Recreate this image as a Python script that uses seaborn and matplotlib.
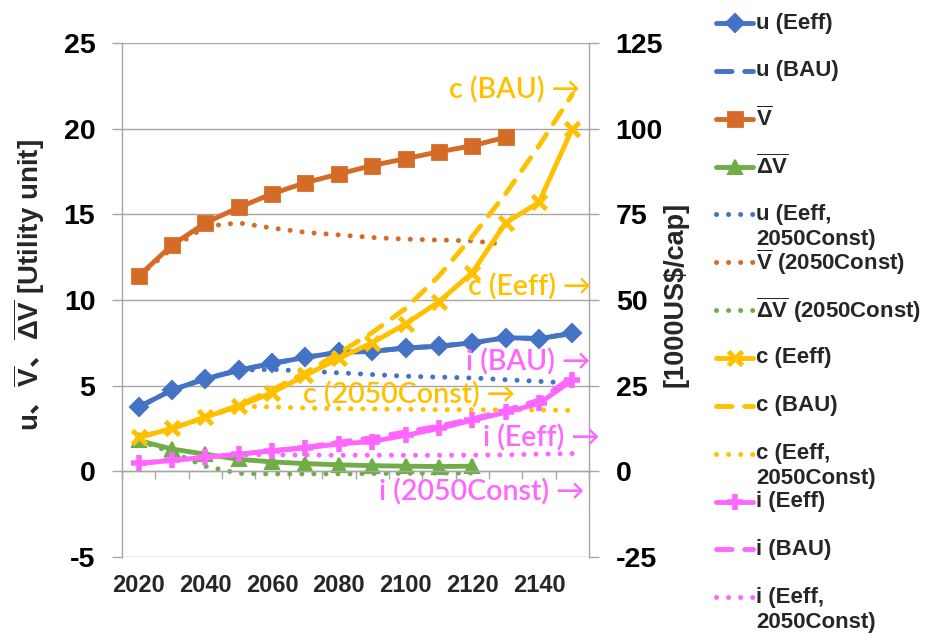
import numpy as np
import pandas as pd
import matplotlib
matplotlib.use("Agg")
import matplotlib.pyplot as plt
from matplotlib.lines import Line2D
import seaborn as sns

nan = np.nan

# ---------------- data ----------------
years = [2020, 2030, 2040, 2050, 2060, 2070, 2080, 2090, 2100, 2110, 2120, 2130, 2140, 2150]
xtick_years = [2020, 2040, 2060, 2080, 2100, 2120, 2140]
left_ticks = [-5, 0, 5, 10, 15, 20, 25]
right_ticks = [-25, 0, 25, 50, 75, 100, 125]

# utility-side series (left axis)
u_eeff = [3.75, 4.75, 5.4, 5.9, 6.3, 6.65, 6.95, 7.0, 7.2, 7.3, 7.5, 7.8, 7.75, 8.05]
u_bau = [3.75, 4.75, 5.4, 5.9, 6.3, 6.65, 6.95, 7.0, 7.2, 7.3, 7.5, 7.8, 7.75, 8.05]
v_bar = [11.4, 13.2, 14.5, 15.4, 16.2, 16.85, 17.35, 17.85, 18.25, 18.65, 19.0, 19.5, nan, nan]
dv_bar = [1.8, 1.3, 1.0, 0.7, 0.55, 0.45, 0.38, 0.33, 0.3, 0.28, 0.3, nan, nan, nan]
u_const = [3.75, 4.75, 5.4, 5.9, 5.95, 5.85, 5.75, 5.65, 5.55, 5.5, 5.45, 5.35, 5.25, 5.15]
v_const = [11.4, 13.0, 14.3, 14.5, 14.2, 13.95, 13.8, 13.65, 13.55, 13.5, 13.45, 13.25, nan, nan]
dv_const = [1.8, 1.1, 0.3, -0.12, -0.15, -0.15, -0.15, -0.13, -0.12, -0.1, -0.1, nan, nan, nan]

# economic series (right axis, 1000 US$/cap)
c_eeff = [9.9, 12.5, 15.8, 19.0, 23.0, 28.0, 33.0, 37.5, 43.0, 49.5, 58.0, 72.5, 78.5, 100.0]
c_bau = [9.9, 12.5, 15.8, 19.3, 23.8, 28.8, 34.5, 40.5, 47.5, 57.0, 68.5, 81.0, 95.0, 110.0]
c_const = [9.9, 12.5, 15.8, 19.0, 18.8, 18.5, 18.3, 18.2, 18.1, 18.0, 18.0, 17.9, 17.9, 17.8]
i_eeff = [2.3, 3.2, 4.1, 5.0, 6.0, 6.8, 8.0, 8.7, 10.5, 12.5, 14.9, 17.2, 19.8, 26.6]
i_bau = [2.3, 3.2, 4.1, 5.0, 6.0, 7.0, 8.5, 9.8, 11.5, 13.2, 15.3, 17.8, 20.8, 27.5]
i_const = [2.3, 3.2, 4.1, 4.9, 4.8, 4.75, 4.7, 4.7, 4.7, 4.7, 4.75, 4.8, 5.0, 5.2]

# ---------------- style ----------------
sns.set_theme(style="white")
plt.rcParams["font.family"] = ["Liberation Sans", "Noto Sans CJK JP", "DejaVu Sans"]
plt.rcParams["axes.unicode_minus"] = False
plt.rcParams["mathtext.fontset"] = "custom"
plt.rcParams["mathtext.bf"] = "Liberation Sans:bold"
plt.rcParams["mathtext.rm"] = "Liberation Sans:bold"
plt.rcParams["mathtext.sf"] = "Noto Sans CJK JP:bold"

BLUE = "#4472C4"
ORANGE = "#D46B26"
GREEN = "#70AD47"
GOLD = "#FFC000"
PINK = "#FF66FF"
GRAY = "#A6A6A6"

LW = 3.5
LW_DOT = 3.6
SOLID = "-"
DASHED = (0, (3.2, 2.6))
DOTTED = (0, (0.01, 2.4))

MARKERS = {
    "D": dict(ms=9, mew=1.5),
    "s": dict(ms=10.5, mew=2),
    "^": dict(ms=10.5, mew=1.5),
    "x": dict(ms=9.5, mew=3.5),
    "+": dict(ms=11, mew=4),
}

W, H = 933, 637
fig = plt.figure(figsize=(W / 100, H / 100), dpi=100)
ax = fig.add_axes([122 / W, 1 - 557 / H, 467 / W, 514 / H])
ax2 = ax.twinx()


def style_line(line, color, style, marker):
    line.set_color(color)
    line.set_linestyle(style)
    line.set_linewidth(LW_DOT if style is DOTTED else LW)
    line.set_dash_capstyle("round")
    line.set_solid_capstyle("round")
    line.set_solid_joinstyle("round")
    if marker:
        line.set_marker(marker)
        line.set_markersize(MARKERS[marker]["ms"])
        line.set_markeredgewidth(MARKERS[marker]["mew"])
        line.set_markeredgecolor(color)
        line.set_markerfacecolor(color)
    else:
        line.set_marker("None")


def draw(axis, values, color, style, marker=None):
    df = pd.DataFrame({"year": years, "value": values}).dropna()
    sns.lineplot(data=df, x="year", y="value", ax=axis, estimator=None,
                 sort=False, errorbar=None, legend=False)
    style_line(axis.lines[-1], color, style, marker)


series = [
    # label, axis, values, color, style, marker
    ("u (Eeff)", ax, u_eeff, BLUE, SOLID, "D"),
    ("u (BAU)", ax, u_bau, BLUE, DASHED, None),
    (r"$\overline{\mathbf{V}}$", ax, v_bar, ORANGE, SOLID, "s"),
    (r"$\overline{\mathbf{\Delta V}}$", ax, dv_bar, GREEN, SOLID, "^"),
    ("u (Eeff,\n2050Const)", ax, u_const, BLUE, DOTTED, None),
    (r"$\overline{\mathbf{V}}$ (2050Const)", ax, v_const, ORANGE, DOTTED, None),
    (r"$\overline{\mathbf{\Delta V}}$ (2050Const)", ax, dv_const, GREEN, DOTTED, None),
    ("c (Eeff)", ax2, c_eeff, GOLD, SOLID, "x"),
    ("c (BAU)", ax2, c_bau, GOLD, DASHED, None),
    ("c (Eeff,\n2050Const)", ax2, c_const, GOLD, DOTTED, None),
    ("i (Eeff)", ax2, i_eeff, PINK, SOLID, "+"),
    ("i (BAU)", ax2, i_bau, PINK, DASHED, None),
    ("i (Eeff,\n2050Const)", ax2, i_const, PINK, DOTTED, None),
]

for label, axis, values, color, style, marker in series:
    draw(axis, values, color, style, marker)

# ---------------- axes ----------------
ax.set_xlim(2015, 2155)
ax.set_ylim(-5, 25)
ax2.set_ylim(-25, 125)
ax.set_xlabel("")
ax.set_ylabel("")
ax2.set_ylabel("")

ax.set_axisbelow(True)
ax.grid(axis="y", color=GRAY, lw=1)
ax.grid(axis="x", visible=False)
ax2.grid(False)

ax.set_yticks(left_ticks, labels=[str(t) for t in left_ticks], fontweight="bold")
ax.tick_params(axis="y", left=True, direction="out", length=7.2, width=1,
               color=GRAY, labelsize=20.5, pad=12, labelcolor="black")
ax2.set_yticks(right_ticks, labels=[str(t) for t in right_ticks], fontweight="bold")
ax2.tick_params(axis="y", right=True, direction="out", length=7.2, width=1,
                color=GRAY, labelsize=20.5, pad=12, labelcolor="black")

# category boundary marks sit on the zero line
ax.spines["bottom"].set_position(("data", 0))
ax.set_xticks(np.arange(2015, 2156, 10))
ax.tick_params(axis="x", bottom=True, direction="out", length=6, width=1,
               color=GRAY, labelbottom=False)
for name in ("left", "bottom"):
    ax.spines[name].set_color(GRAY)
    ax.spines[name].set_linewidth(1)
for name in ("top", "right"):
    ax.spines[name].set_visible(False)
for name in ("top", "bottom", "left"):
    ax2.spines[name].set_visible(False)
ax2.spines["right"].set_color(GRAY)
ax2.spines["right"].set_linewidth(1)

# year labels along the bottom edge
sec = ax.secondary_xaxis("bottom")
sec.set_xticks(xtick_years, labels=[str(y) for y in xtick_years], fontweight="bold")
sec.tick_params(axis="x", length=0, labelsize=17, pad=12)
sec.spines["bottom"].set_visible(False)

# axis titles
fig.text(29 / W, 1 - 285 / H,
         r"u$\mathsf{、}\overline{\mathbf{V}}\mathsf{、}\overline{\mathbf{\Delta V}}$ [Utility unit]",
         rotation=90, ha="center", va="center", fontsize=20, fontweight="bold")
fig.text(676 / W, 1 - 294 / H, "[1000US$/cap]", rotation=90, ha="center",
         va="center", fontsize=19.5, fontweight="bold")

# ---------------- series call-outs ----------------
callouts = [
    ("c (BAU) →", GOLD, 580, 90),
    ("c (Eeff) →", GOLD, 592, 287),
    ("c (2050Const) →", GOLD, 515, 395),
    ("i (BAU) →", PINK, 590, 362),
    ("i (Eeff) →", PINK, 600, 438),
    ("i (2050Const) →", PINK, 585, 492),
]
for text, color, px, py in callouts:
    ax2.text((px - 122) / 467, (557 - py) / 514, text, transform=ax2.transAxes,
             ha="right", va="center", color=color, fontsize=20.5, fontweight=600,
             family=["Lato", "DejaVu Sans"], clip_on=False, zorder=10)

# ---------------- legend ----------------
x0, x1 = 716 / W, 753 / W
for k, (label, axis, values, color, style, marker) in enumerate(series):
    py = 23 + k * 47.85
    yf = 1 - py / H
    handle = Line2D([x0, (x0 + x1) / 2, x1], [yf, yf, yf], transform=fig.transFigure,
                    markevery=[1])
    style_line(handle, color, style, marker)
    fig.add_artist(handle)
    for j, part in enumerate(label.split("\n")):
        fig.text(756 / W, 1 - (py + j * 25) / H, part, ha="left", va="center",
                 fontsize=16, fontweight="bold")

fig.savefig("out.png", dpi=100)
